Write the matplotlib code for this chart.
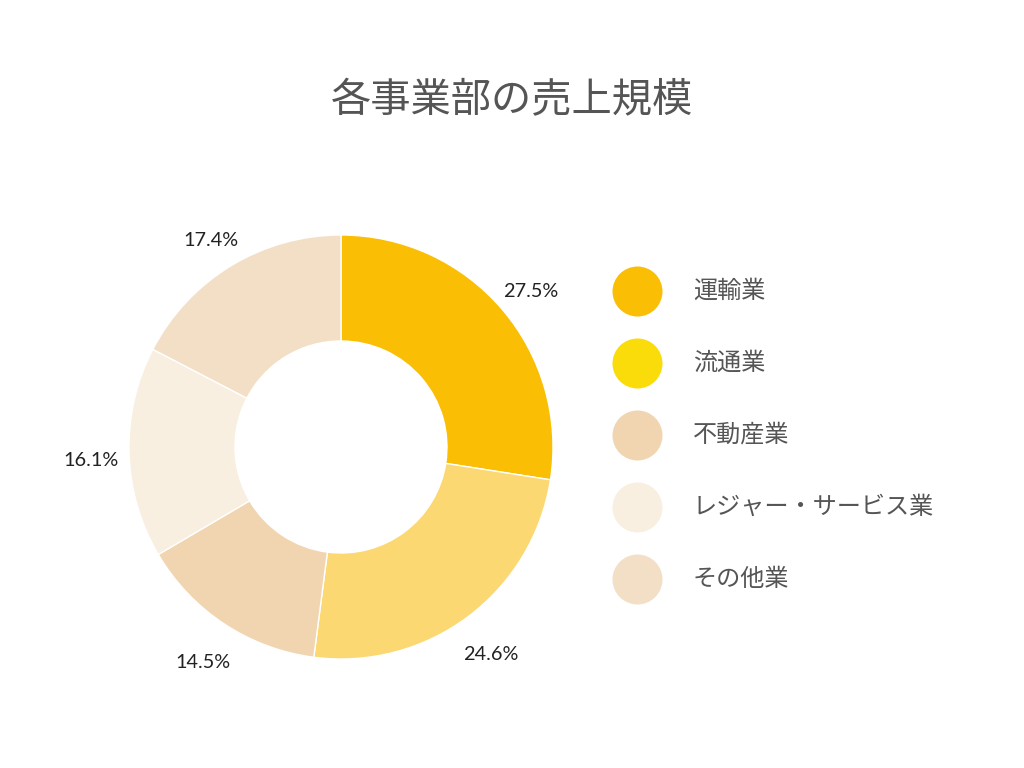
"""Donut chart: sales scale of each business division."""
import matplotlib
matplotlib.use("Agg")
import matplotlib.pyplot as plt
from matplotlib.transforms import offset_copy

plt.rcParams['font.family'] = ['Noto Sans CJK JP', 'DejaVu Sans']

title = "各事業部の売上規模"
categories = ["運輸業", "流通業", "不動産業", "レジャー・サービス業", "その他業"]
shares = [27.5, 24.6, 14.5, 16.1, 17.4]
slice_colors = ["#FABE05", "#FCD873", "#F0D5B0", "#F8EFE0", "#F2DFC6"]
legend_colors = ["#FABE05", "#FADC0A", "#F0D5B0", "#F8EFE0", "#F2DFC6"]

W, H = 1024, 768
fig = plt.figure(figsize=(W / 100, H / 100), dpi=100)

# donut axes, placed in pixels: centre (341, 447), radius 212
cx, cy, r = 341, 447, 212
ax = fig.add_axes([(cx - r) / W, (H - cy - r) / H, 2 * r / W, 2 * r / H])
wedges, texts = ax.pie(
    shares, colors=slice_colors, startangle=90, counterclock=False,
    radius=1.0, labels=[f"{v:.1f}%" for v in shares], labeldistance=1.18,
    wedgeprops=dict(width=0.5, edgecolor="white", linewidth=1),
    textprops=dict(fontsize=14.3, color="#222222", family=["Lato", "DejaVu Sans"]),
)
shift = offset_copy(ax.transData, fig=fig, x=0, y=-7, units="dots")
for t in texts:
    t.set_ha("center")
    t.set_va("center")
    t.set_transform(shift)
ax.set_xlim(-1, 1)
ax.set_ylim(-1, 1)
ax.set_aspect("equal")
ax.axis("off")

fig.text(0.5, 1 - 101 / H, title, ha="center", va="center",
         fontsize=29, color="#555555")

# legend drawn in an overlay axes using pixel coordinates
lax = fig.add_axes([0, 0, 1, 1], zorder=-1)
lax.set_xlim(0, W)
lax.set_ylim(H, 0)
lax.axis("off")
for i, (name, col) in enumerate(zip(categories, legend_colors)):
    y = 291 + 72 * i
    lax.scatter([637], [y], s=(50 * 0.72) ** 2, color=col, linewidths=0)
    lax.text(693, y, name, ha="left", va="center", fontsize=17.4,
             color="#555555")

fig.savefig("out.png", dpi=100)
